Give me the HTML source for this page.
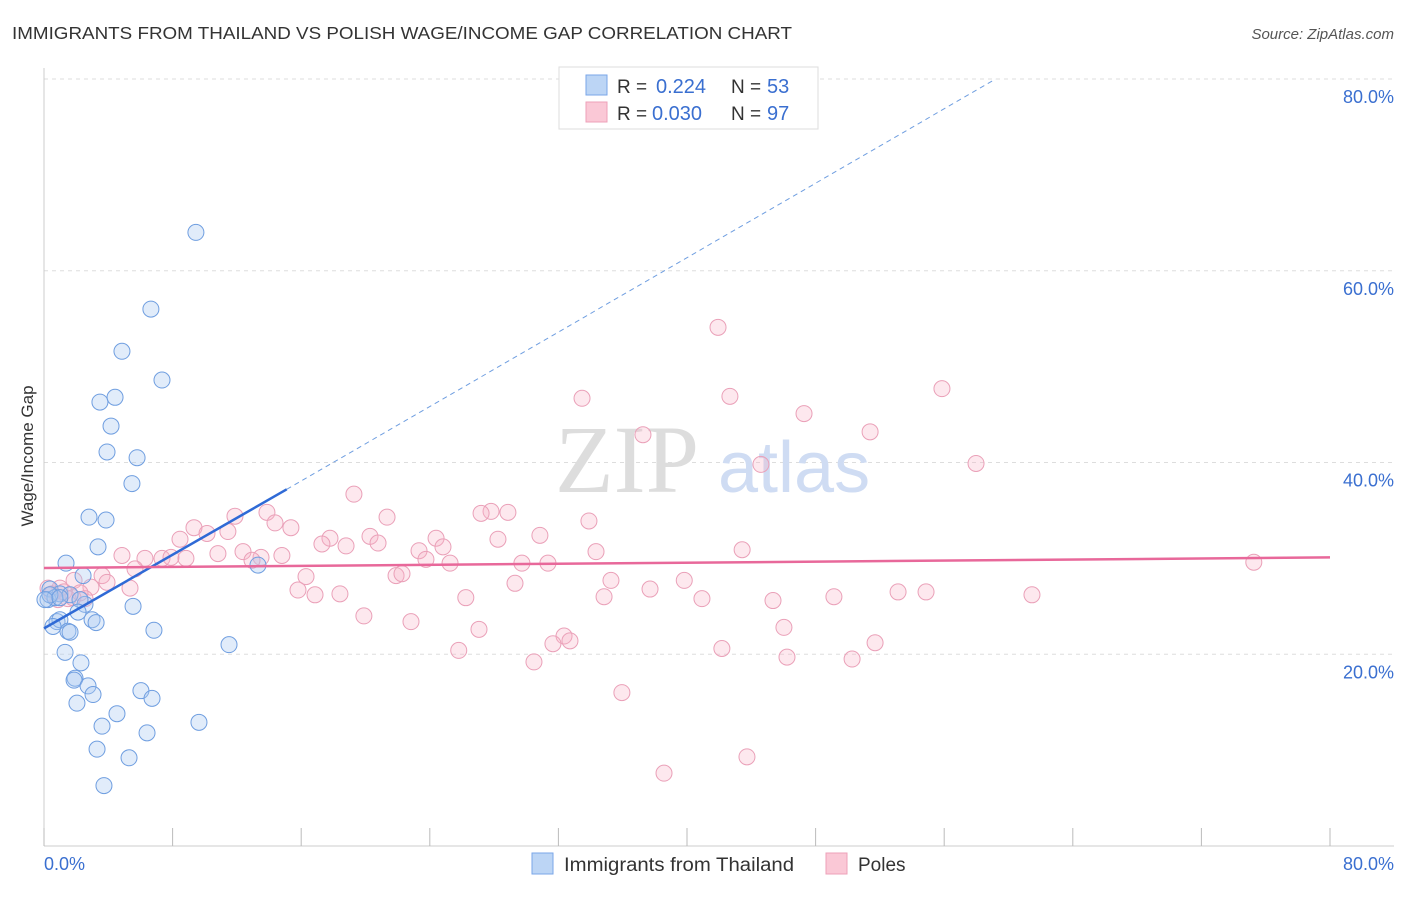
<!DOCTYPE html>
<html><head><meta charset="utf-8"><style>
body{margin:0;background:#fff;font-family:"Liberation Sans",sans-serif;}
svg text{font-family:"Liberation Sans",sans-serif;}
</style></head><body>
<svg id="chart" width="1406" height="892" xmlns="http://www.w3.org/2000/svg">
<text x="12" y="39" font-size="17.5" fill="#333" textLength="780" lengthAdjust="spacingAndGlyphs">IMMIGRANTS FROM THAILAND VS POLISH WAGE/INCOME GAP CORRELATION CHART</text>
<text x="1394" y="39" font-size="15" fill="#555" font-style="italic" text-anchor="end">Source: ZipAtlas.com</text>
<g id="grid"></g>
<line x1="44" y1="68" x2="44" y2="846" stroke="#ccc"/>
<line x1="44" y1="846" x2="1394" y2="846" stroke="#ccc"/>
<g id="xticks"></g>
<g id="ylabels"></g>
<text x="44" y="870" font-size="18" fill="#3a6fd0">0.0%</text>
<text x="1394" y="870" font-size="18" fill="#3a6fd0" text-anchor="end">80.0%</text>
<text transform="translate(33,456) rotate(-90)" font-size="17" fill="#333" text-anchor="middle">Wage/Income Gap</text>
<text x="555" y="492" font-size="96" fill="#ddd" style="font-family:'Liberation Serif',serif">ZIP</text>
<text x="718" y="492" font-size="72" fill="#cfdcf3">atlas</text>
<g id="pts"></g>
<g id="lines"></g>
<g>
<rect x="559" y="67" width="259" height="62" fill="#fff" stroke="#ddd"/>
<rect x="586" y="75" width="21" height="20" fill="#bcd5f5" stroke="#7aa6e8"/>
<rect x="586" y="102" width="21" height="20" fill="#fac8d6" stroke="#eea0b8"/>
<text x="617" y="93" font-size="19" fill="#333">R = </text><text x="656" y="93" font-size="20" fill="#3a6fd0">0.224</text>
<text x="731" y="93" font-size="19" fill="#333">N = </text><text x="767" y="93" font-size="20" fill="#3a6fd0">53</text>
<text x="617" y="120" font-size="19" fill="#333">R = </text><text x="652" y="120" font-size="20" fill="#3a6fd0">0.030</text>
<text x="731" y="120" font-size="19" fill="#333">N = </text><text x="767" y="120" font-size="20" fill="#3a6fd0">97</text>
</g>
<g>
<rect x="532" y="853" width="21" height="21" fill="#bcd5f5" stroke="#7aa6e8"/>
<text x="564" y="871" font-size="19" fill="#333" textLength="230" lengthAdjust="spacingAndGlyphs">Immigrants from Thailand</text>
<rect x="826" y="853" width="21" height="21" fill="#fac8d6" stroke="#eea0b8"/>
<text x="858" y="871" font-size="19" fill="#333">Poles</text>
</g>
</svg>
<script>
const yTicks=[20,40,60,80];
const xTicks=[0,8,16,24,32,40,48,56,64,72,80];
const blueX=[9.45,6.65,4.85,7.34,3.48,4.42,4.17,3.92,5.79,5.47,2.80,3.86,3.36,1.37,2.43,0.37,0.99,1.62,0.25,0.68,2.55,2.24,2.12,2.99,3.24,0.81,0.99,0.56,1.49,1.62,5.54,6.84,11.51,13.31,1.31,2.30,1.93,1.87,2.74,3.05,6.03,6.72,2.05,4.54,3.61,9.64,6.41,3.30,5.29,3.73,0.37,0.06,0.99];
const blueY=[64.0,56.0,51.6,48.6,46.3,46.8,43.8,41.1,40.5,37.8,34.3,34.0,31.2,29.5,28.2,26.8,26.3,26.2,25.7,25.9,25.2,25.7,24.4,23.6,23.3,23.4,23.6,22.9,22.4,22.3,25.0,22.5,21.0,29.3,20.2,19.1,17.5,17.3,16.7,15.8,16.2,15.4,14.9,13.8,12.5,12.9,11.8,10.1,9.2,6.3,26.2,25.7,25.9];
const pinkX=[41.93,55.86,42.67,33.47,47.28,51.39,37.26,44.60,57.98,19.28,11.88,13.87,27.81,27.19,28.86,33.90,21.34,9.33,14.37,15.36,8.46,10.14,11.44,17.79,20.28,24.39,28.24,30.85,20.78,17.29,18.79,24.82,23.33,34.34,43.43,4.85,6.28,7.34,7.90,8.83,10.82,12.38,14.80,13.50,12.94,23.76,25.26,29.73,31.35,5.66,3.61,3.92,2.92,16.30,21.90,22.27,35.27,39.83,29.30,5.35,15.80,16.86,18.41,26.24,37.70,34.84,40.93,45.35,49.14,53.13,54.87,61.46,75.26,1.87,0.99,1.24,2.55,0.87,0.25,0.50,1.80,19.90,22.83,27.06,46.03,32.35,32.72,31.66,51.70,42.17,46.22,50.27,25.80,30.48,35.95,38.57,43.73,1.49,2.24];
const pinkY=[54.1,47.7,46.9,46.7,45.1,43.2,42.9,39.8,39.9,36.7,34.4,34.8,34.9,34.7,34.8,33.9,34.3,33.2,33.7,33.2,32.0,32.6,32.8,32.1,32.3,32.1,32.0,32.4,31.6,31.5,31.3,31.2,30.8,30.7,30.9,30.3,30.0,30.0,30.1,30.0,30.5,30.7,30.3,30.1,29.8,29.9,29.5,29.5,29.5,28.9,28.2,27.5,27.0,28.1,28.2,28.4,27.7,27.7,27.4,26.9,26.7,26.2,26.3,25.9,26.8,26.0,25.8,25.6,26.0,26.5,26.5,26.2,29.6,27.7,26.9,26.5,25.8,25.7,26.9,26.3,25.9,24.0,23.4,22.6,22.8,21.9,21.4,21.1,21.2,20.6,19.7,19.5,20.4,19.2,16.0,7.6,9.3,25.8,26.4];
const NS='http://www.w3.org/2000/svg';
const X0=44,X1=1330,Y0=846,Y80=79;
const sx=v=>X0+(X1-X0)*v/80, sy=v=>Y0-(Y0-Y80)*v/80;
function mk(t,a,p){const e=document.createElementNS(NS,t);for(const k in a)e.setAttribute(k,a[k]);p.appendChild(e);return e;}
const grid=document.getElementById('grid'),yl=document.getElementById('ylabels'),xt=document.getElementById('xticks');
yTicks.forEach(v=>{const l=mk('line',{x1:44,x2:1394,y1:sy(v),y2:sy(v),stroke:'#ddd','stroke-dasharray':'4,4'},grid);


const t=mk('text',{x:1394,y:sy(v)+24,'font-size':18,fill:'#3a6fd0','text-anchor':'end'},yl);t.textContent=v.toFixed(1)+'%';

});
xTicks.forEach(v=>{const l=mk('line',{x1:sx(v),x2:sx(v),y1:828,y2:846,stroke:'#bbb'},xt);

});
const pts=document.getElementById('pts');
pinkX.forEach((x,i)=>{const c=mk('circle',{cx:sx(x),cy:sy(pinkY[i]),r:8,fill:'rgba(248,180,200,0.3)',stroke:'#eaa0b8','stroke-width':1},pts);

});
blueX.forEach((x,i)=>{const c=mk('circle',{cx:sx(x),cy:sy(blueY[i]),r:8,fill:'rgba(170,200,240,0.35)',stroke:'#6f9ee0','stroke-width':1},pts);

});
const lg=document.getElementById('lines');
const bl=mk('line',{x1:sx(0),y1:sy(22.7),x2:sx(15.1),y2:sy(37.2),stroke:'#2f6ad6','stroke-width':2.5},lg);


const bd=mk('line',{x1:sx(15.1),y1:sy(37.2),x2:sx(59.2),y2:sy(80),stroke:'#6f9ee0','stroke-width':1,'stroke-dasharray':'5,4'},lg);


const pl=mk('line',{x1:sx(0),y1:sy(29.0),x2:sx(80),y2:sy(30.1),stroke:'#e8689a','stroke-width':2.5},lg);


</script>
</body></html>
